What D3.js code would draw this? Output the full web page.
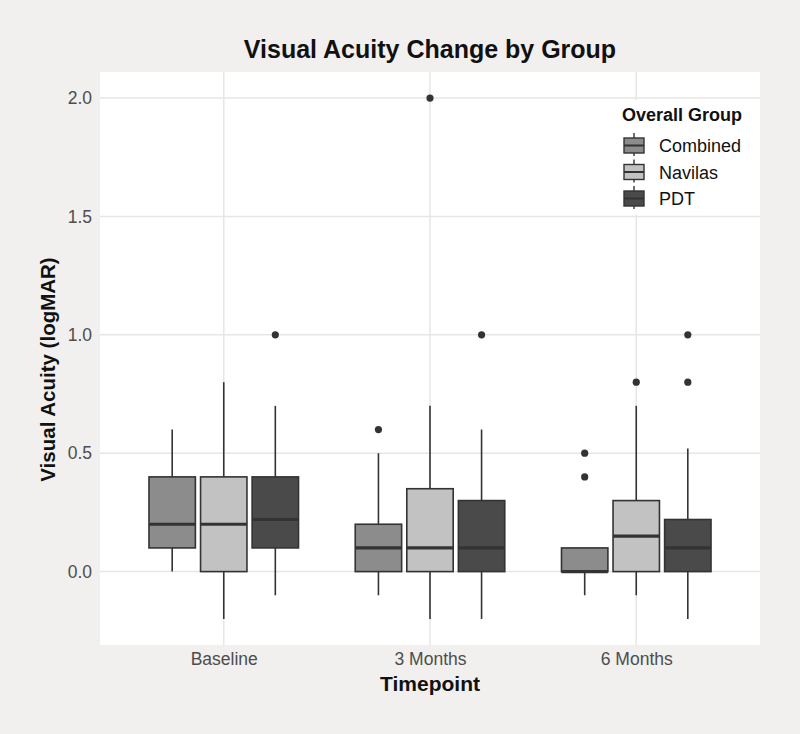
<!DOCTYPE html>
<html>
<head>
<meta charset="utf-8">
<script src="https://cdn.jsdelivr.net/npm/d3@7"></script>
<style>
  body { margin: 0; background: #f1f0ee; }
  svg { font-family: "Liberation Sans", Arial, sans-serif; }
</style>
</head>
<body>
<div id="chart"></div>
<script>
const timepoints = ["Baseline", "3 Months", "6 Months"];
const groups = ["Combined", "Navilas", "PDT"];
const groupColors = ["#8c8c8c", "#c2c2c2", "#4a4a4a"];
const yTicks = [0, 0.5, 1, 1.5, 2];

// [timepoint, group, lowWhisker, q1, median, q3, highWhisker]
const boxStats = [
  ["Baseline", "Combined", 0.0, 0.1, 0.2, 0.4, 0.6],
  ["Baseline", "Navilas", -0.2, 0.0, 0.2, 0.4, 0.8],
  ["Baseline", "PDT", -0.1, 0.1, 0.22, 0.4, 0.7],
  ["3 Months", "Combined", -0.1, 0.0, 0.1, 0.2, 0.5],
  ["3 Months", "Navilas", -0.2, 0.0, 0.1, 0.35, 0.7],
  ["3 Months", "PDT", -0.2, 0.0, 0.1, 0.3, 0.6],
  ["6 Months", "Combined", -0.1, 0.0, 0.0, 0.1, 0.1],
  ["6 Months", "Navilas", -0.1, 0.0, 0.15, 0.3, 0.7],
  ["6 Months", "PDT", -0.2, 0.0, 0.1, 0.22, 0.52]
];

// [timepoint, group, value]
const outliers = [
  ["Baseline", "PDT", 1.0],
  ["3 Months", "Combined", 0.6],
  ["3 Months", "Navilas", 2.0],
  ["3 Months", "PDT", 1.0],
  ["6 Months", "Combined", 0.5],
  ["6 Months", "Combined", 0.4],
  ["6 Months", "Navilas", 0.8],
  ["6 Months", "PDT", 0.8],
  ["6 Months", "PDT", 1.0]
];

const width = 800, height = 734;
const margin = { top: 72, right: 40, bottom: 90, left: 100 };
const panelW = width - margin.left - margin.right;

const svg = d3.select("#chart").append("svg")
  .attr("width", width).attr("height", height);

// ggplot-like discrete positions: expand 0.6 on each side
const xPos = d3.scalePoint()
  .domain(timepoints)
  .range([margin.left + panelW * 0.6 / 3.2, width - margin.right - panelW * 0.6 / 3.2]);
const step = xPos.step();

const xGroup = d3.scaleBand()
  .domain(groups)
  .range([-0.375 * step, 0.375 * step])
  .paddingInner(0.1).paddingOuter(0.05);

const y = d3.scaleLinear()
  .domain([-0.31, 2.11])
  .range([height - margin.bottom + 1, margin.top]);

const color = d3.scaleOrdinal().domain(groups).range(groupColors);

// panel
svg.append("rect")
  .attr("x", margin.left).attr("y", margin.top)
  .attr("width", panelW)
  .attr("height", y.range()[0] - margin.top)
  .attr("fill", "#ffffff");

const grid = svg.append("g").attr("stroke", "#e8e5e5").attr("stroke-width", 1.5);
grid.selectAll(".gy").data(yTicks).join("line")
  .attr("x1", margin.left).attr("x2", width - margin.right)
  .attr("y1", d => y(d)).attr("y2", d => y(d));
grid.selectAll(".gx").data(timepoints).join("line")
  .attr("x1", d => xPos(d)).attr("x2", d => xPos(d))
  .attr("y1", margin.top).attr("y2", y.range()[0]);

// legend background (inside panel)
svg.append("rect")
  .attr("x", 608).attr("y", y(2) + 2)
  .attr("width", 149).attr("height", y(1.5) - y(2) - 4)
  .attr("fill", "#ffffff");

// axes
const yAxis = svg.append("g")
  .attr("transform", `translate(${margin.left},0)`)
  .call(d3.axisLeft(y).tickValues(yTicks).tickFormat(d3.format(".1f")).tickSize(0).tickPadding(8));
yAxis.select(".domain").remove();
yAxis.selectAll("text").attr("fill", "#4d4d4d").style("font-size", "17.5px");

const xAxis = svg.append("g")
  .attr("transform", `translate(0,${y.range()[0]})`)
  .call(d3.axisBottom(xPos).tickSize(0).tickPadding(8));
xAxis.select(".domain").remove();
xAxis.selectAll("text").attr("fill", "#4d4d4d").style("font-size", "17.5px");

// boxes
const boxW = xGroup.bandwidth();
const boxes = svg.append("g").selectAll("g").data(boxStats).join("g")
  .attr("transform", d => `translate(${xPos(d[0]) + xGroup(d[1]) + boxW / 2},0)`);

boxes.append("line")
  .attr("y1", d => y(d[2])).attr("y2", d => y(d[3]))
  .attr("stroke", "#333333").attr("stroke-width", 1.6);
boxes.append("line")
  .attr("y1", d => y(d[5])).attr("y2", d => y(d[6]))
  .attr("stroke", "#333333").attr("stroke-width", 1.6);
boxes.append("rect")
  .attr("x", -boxW / 2).attr("width", boxW)
  .attr("y", d => y(d[5])).attr("height", d => y(d[3]) - y(d[5]))
  .attr("fill", d => color(d[1]))
  .attr("stroke", "#333333").attr("stroke-width", 1.6);
boxes.append("line")
  .attr("x1", -boxW / 2).attr("x2", boxW / 2)
  .attr("y1", d => y(d[4])).attr("y2", d => y(d[4]))
  .attr("stroke", "#333333").attr("stroke-width", 3.2);

svg.append("g").selectAll("circle").data(outliers).join("circle")
  .attr("cx", d => xPos(d[0]) + xGroup(d[1]) + boxW / 2)
  .attr("cy", d => y(d[2]))
  .attr("r", 3.6)
  .attr("fill", "#333333");

// titles
svg.append("text")
  .attr("x", margin.left + panelW / 2)
  .attr("y", 58)
  .attr("text-anchor", "middle")
  .style("font-size", "25px").style("font-weight", "bold")
  .attr("fill", "#111")
  .text("Visual Acuity Change by Group");

svg.append("text")
  .attr("x", margin.left + panelW / 2)
  .attr("y", 691)
  .attr("text-anchor", "middle")
  .style("font-size", "21px").style("font-weight", "bold")
  .attr("fill", "#111")
  .text("Timepoint");

svg.append("text")
  .attr("transform", `translate(55,${(margin.top + y.range()[0]) / 2 + 11}) rotate(-90)`)
  .attr("text-anchor", "middle")
  .style("font-size", "20.5px").style("font-weight", "bold")
  .attr("fill", "#111")
  .text("Visual Acuity (logMAR)");

// legend
const legend = svg.append("g").attr("transform", "translate(622,0)");
legend.append("text")
  .attr("x", 0).attr("y", 121)
  .style("font-size", "18px").style("font-weight", "bold")
  .attr("fill", "#111")
  .text("Overall Group");

const items = legend.selectAll(".item").data(groups).join("g")
  .attr("transform", (d, i) => `translate(0,${135 + i * 26.5})`);
items.append("line")
  .attr("x1", 12).attr("x2", 12).attr("y1", -2).attr("y2", 21)
  .attr("stroke", "#333333").attr("stroke-width", 1.4);
items.append("rect")
  .attr("x", 2).attr("y", 3).attr("width", 20).attr("height", 15)
  .attr("fill", d => color(d))
  .attr("stroke", "#333333").attr("stroke-width", 1.4);
items.append("line")
  .attr("x1", 2).attr("x2", 22).attr("y1", 10.5).attr("y2", 10.5)
  .attr("stroke", "#333333").attr("stroke-width", 2);
items.append("text")
  .attr("x", 37).attr("y", 17)
  .style("font-size", "18px")
  .attr("fill", "#111")
  .text(d => d);
</script>
</body>
</html>
